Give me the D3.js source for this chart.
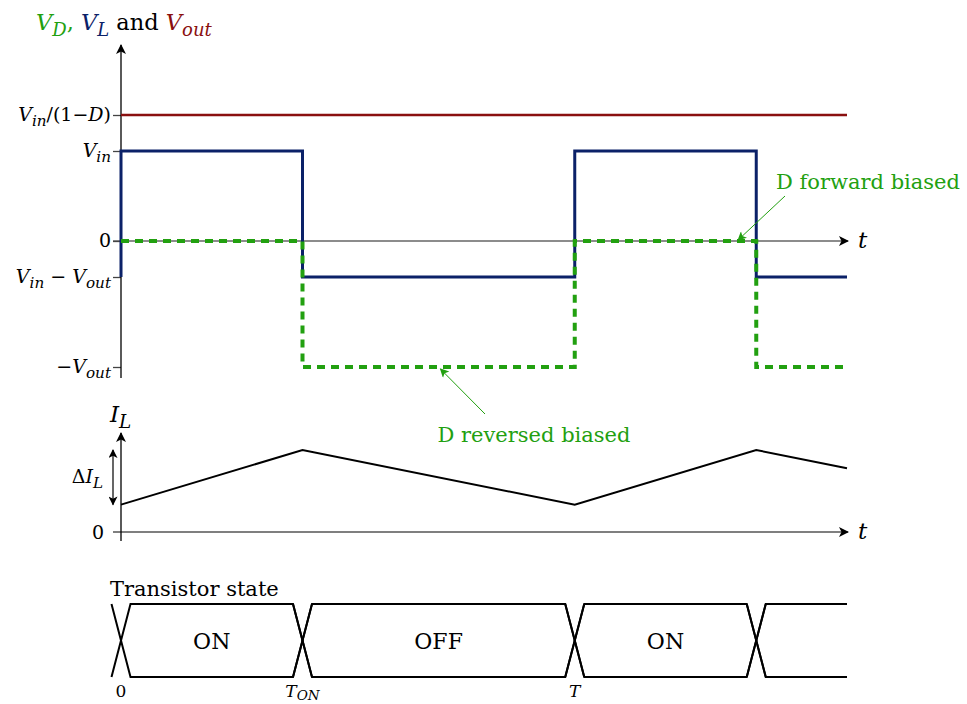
<!DOCTYPE html>
<html><head><meta charset="utf-8">
<script src="https://cdn.jsdelivr.net/npm/d3@7"></script>
<style>
html,body{margin:0;padding:0;background:#fff;}
svg{display:block;font-family:"DejaVu Serif",serif;}
</style></head>
<body>
<svg id="chart" width="967" height="704"></svg>
<script>
// ---- data ----
const vlTimes  = [0, 0, 0.4, 0.4, 1, 1, 1.4, 1.4, 1.6];
const vlValues = [-0.4, 1, 1, -0.4, -0.4, 1, 1, -0.4, -0.4];
const vdTimes  = [0, 0.4, 0.4, 1, 1, 1.4, 1.4, 1.6];
const vdValues = [0, 0, -1.4, -1.4, 0, 0, -1.4, -1.4];
const voutTimes  = [0, 1.6];
const voutValues = [1.4, 1.4];
const vTickValues = [1.4, 1, 0, -0.4, -1.4];
const vTickLabels = ["Vin/(1-D)", "Vin", "0", "Vin-Vout", "-Vout"];
const ilTimes  = [0, 0.4, 1, 1.4, 1.6];
const ilValues = [1, 3, 1, 3, 2.33];
const stateTimes  = [0, 0.4, 1, 1.4, 1.6];
const stateLabels = ["ON", "OFF", "ON", ""];
const timeTickValues = [0, 0.4, 1];
const timeTickLabels = ["0", "TON", "T"];

const BLUE = "#0b2168", GREEN = "#22a010", RED = "#8a1010";

const svg = d3.select("#chart");
const x = d3.scaleLinear().domain([0, 1.6]).range([121, 847]);
const yV = d3.scaleLinear().domain([-1.4, 1.4]).range([367, 115]);
const yI = d3.scaleLinear().domain([0, 3]).range([532, 450]);

const defs = svg.append("defs");
function marker(id, color, w, h) {
  defs.append("marker").attr("id", id).attr("viewBox", "0 0 10 10")
    .attr("refX", 9).attr("refY", 5).attr("markerWidth", w).attr("markerHeight", h)
    .attr("markerUnits", "userSpaceOnUse").attr("orient", "auto-start-reverse")
    .append("path").attr("d", "M0,0 L10,5 L0,10 L2.5,5 Z").attr("fill", color);
}
marker("ax", "#000", 12, 10);
marker("gr", GREEN, 11, 9);
marker("dl", "#000", 10, 9);

// rich text helper
const LAB = {
  "Vin/(1-D)": [{t:"V",i:1},{t:"in",i:1,s:1},{t:"/(1\u2212"},{t:"D",i:1},{t:")"}],
  "Vin": [{t:"V",i:1},{t:"in",i:1,s:1}],
  "0": [{t:"0"}],
  "Vin-Vout": [{t:"V",i:1},{t:"in",i:1,s:1},{t:" \u2212 "},{t:"V",i:1},{t:"out",i:1,s:1}],
  "-Vout": [{t:"\u2212"},{t:"V",i:1},{t:"out",i:1,s:1}],
  "TON": [{t:"T",i:1},{t:"ON",i:1,s:1}],
  "T": [{t:"T",i:1}]
};
function rich(g, px, py, segs, size, anchor, fill, subScale, subShift) {
  const sc = subScale || 0.8, sh = subShift == null ? 0.25 : subShift;
  const t = g.append("text").attr("x", px).attr("y", py)
    .attr("text-anchor", anchor || "start").attr("fill", fill || "#000")
    .style("font-size", size + "px");
  let shift = 0;
  segs.forEach(s => {
    const target = s.s ? size * sh : 0;
    const ts = t.append("tspan").attr("dy", target - shift).text(s.t);
    shift = target;
    if (s.s) ts.style("font-size", (size * sc) + "px");
    if (s.i) ts.style("font-style", "italic");
    if (s.c) ts.attr("fill", s.c);
  });
  return t;
}

// ---------- top panel ----------
rich(svg, 36, 30, [
  {t:"V",i:1,c:GREEN},{t:"D",i:1,s:1,c:GREEN},{t:", ",c:GREEN},
  {t:"V",i:1,c:BLUE},{t:"L",i:1,s:1,c:BLUE},{t:" and "},
  {t:"V",i:1,c:RED},{t:"out",i:1,s:1,c:RED}
], 22.5);

// zero axis
svg.append("line").attr("x1", 113).attr("x2", x(1.6) + 1).attr("y1", yV(0)).attr("y2", yV(0))
  .attr("stroke", "#666").attr("stroke-width", 1.4).attr("marker-end", "url(#ax)");
rich(svg, 858, yV(0) + 7, [{t:"t",i:1}], 23);

// y axis ticks
const axV = svg.append("g").attr("transform", `translate(${x(0)},0)`)
  .call(d3.axisLeft(yV).tickValues(vTickValues).tickSize(8).tickFormat(""));
axV.select(".domain").remove();
axV.selectAll(".tick line").attr("stroke", "#444").attr("stroke-width", 1.3);
vTickValues.forEach((v, k) => rich(svg, 111, yV(v) + 6, LAB[vTickLabels[k]], 19, "end"));
// vertical axis
svg.append("line").attr("x1", x(0)).attr("x2", x(0)).attr("y1", 378).attr("y2", 45)
  .attr("stroke", "#000").attr("stroke-width", 1.3).attr("marker-end", "url(#ax)");

const line = (ys) => d3.line().x(d => x(d[0])).y(d => ys(d[1]));
svg.append("path").datum(d3.zip(voutTimes, voutValues)).attr("d", line(yV))
  .attr("fill", "none").attr("stroke", RED).attr("stroke-width", 2.4);
svg.append("path").datum(d3.zip(vlTimes, vlValues)).attr("d", line(yV))
  .attr("fill", "none").attr("stroke", BLUE).attr("stroke-width", 3);
svg.append("path").datum(d3.zip(vdTimes, vdValues)).attr("d", line(yV))
  .attr("fill", "none").attr("stroke", GREEN).attr("stroke-width", 4)
  .attr("stroke-dasharray", "8,6");

// annotations
svg.append("line").attr("x1", 785).attr("y1", 196).attr("x2", x(1.36)).attr("y2", yV(0) - 1)
  .attr("stroke", GREEN).attr("stroke-width", 1).attr("marker-end", "url(#gr)");
svg.append("text").attr("x", 868).attr("y", 189).attr("text-anchor", "middle")
  .attr("fill", GREEN).style("font-size", "21px").text("D forward biased");
svg.append("line").attr("x1", 485).attr("y1", 414).attr("x2", x(0.704)).attr("y2", yV(-1.4) + 2)
  .attr("stroke", GREEN).attr("stroke-width", 1).attr("marker-end", "url(#gr)");
svg.append("text").attr("x", 534).attr("y", 442).attr("text-anchor", "middle")
  .attr("fill", GREEN).style("font-size", "21px").text("D reversed biased");

// ---------- middle panel ----------
svg.append("line").attr("x1", 113).attr("x2", x(1.6) + 1).attr("y1", yI(0)).attr("y2", yI(0))
  .attr("stroke", "#555").attr("stroke-width", 1.4).attr("marker-end", "url(#ax)");
rich(svg, 858, yI(0) + 7, [{t:"t",i:1}], 23);
svg.append("line").attr("x1", x(0)).attr("x2", x(0)).attr("y1", 541).attr("y2", 433)
  .attr("stroke", "#000").attr("stroke-width", 1.3).attr("marker-end", "url(#ax)");
rich(svg, 104, yI(0) + 7, [{t:"0"}], 19, "end");
rich(svg, 110, 422, [{t:"I",i:1},{t:"L",i:1,s:1}], 23);
svg.append("path").datum(d3.zip(ilTimes, ilValues)).attr("d", line(yI))
  .attr("fill", "none").attr("stroke", "#000").attr("stroke-width", 2);
// delta arrow
svg.append("line").attr("x1", 113).attr("x2", 113).attr("y1", yI(1)).attr("y2", yI(3))
  .attr("stroke", "#000").attr("stroke-width", 1.2)
  .attr("marker-start", "url(#dl)").attr("marker-end", "url(#dl)");
rich(svg, 103, 483, [{t:"\u0394"},{t:"I",i:1},{t:"L",i:1,s:1}], 19, "end");

// ---------- bottom panel ----------
svg.append("text").attr("x", 110).attr("y", 596).style("font-size", "21px").text("Transistor state");
const yTop = 604, yBot = 677, hw = 9.5;
const sg = svg.append("g").attr("fill", "none").attr("stroke", "#000").attr("stroke-width", 2);
for (let k = 0; k < stateTimes.length - 1; k++) {
  const a = x(stateTimes[k]), b = x(stateTimes[k + 1]);
  const last = k === stateTimes.length - 2;
  const bb = last ? b : b - hw;
  sg.append("path").attr("d", `M${a - hw},${yBot} L${a + hw},${yTop} L${bb},${yTop}` + (last ? "" : ` L${b + hw},${yBot}`));
  sg.append("path").attr("d", `M${a - hw},${yTop} L${a + hw},${yBot} L${bb},${yBot}` + (last ? "" : ` L${b + hw},${yTop}`));
  if (stateLabels[k]) svg.append("text").attr("x", (a + b) / 2).attr("y", (yTop + yBot) / 2 + 8)
    .attr("text-anchor", "middle").style("font-size", "22px").text(stateLabels[k]);
}
timeTickValues.forEach((t, k) => rich(svg, x(t), 697, LAB[timeTickLabels[k]], 17, "middle", "#000", 0.8, 0.15));
</script>
</body></html>
